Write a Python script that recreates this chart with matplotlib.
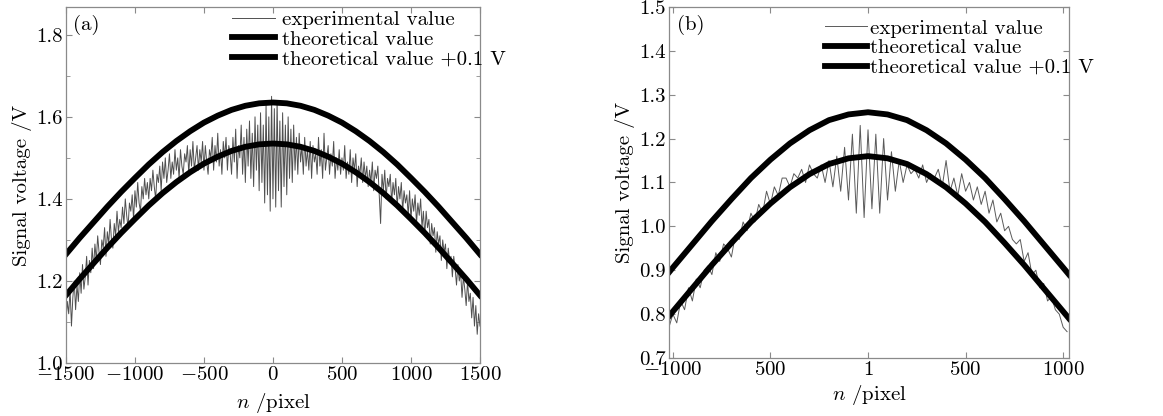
import numpy as np
import matplotlib
matplotlib.use("Agg")
import matplotlib.pyplot as plt

plt.rcParams['font.family'] = 'serif'
plt.rcParams['font.serif'] = ['cmr10']
plt.rcParams['mathtext.fontset'] = 'cm'
plt.rcParams['axes.unicode_minus'] = False
plt.rcParams['axes.formatter.use_mathtext'] = True

# ---- panel (a) data ----
xa_theo = [-1500, -1400, -1300, -1200, -1100, -1000, -900, -800, -700, -600, -500, -400, -300, -200, -100,
           0, 100, 200, 300, 400, 500, 600, 700, 800, 900, 1000, 1100, 1200, 1300, 1400, 1500]
ya_theo = [1.165, 1.205, 1.243, 1.281, 1.317, 1.351, 1.384, 1.414, 1.441, 1.465, 1.486, 1.503, 1.517, 1.527, 1.533,
           1.535, 1.533, 1.527, 1.517, 1.503, 1.486, 1.465, 1.441, 1.414, 1.384, 1.351, 1.317, 1.281, 1.243, 1.205, 1.165]
ya_theo_up = [v + 0.1 for v in ya_theo]

xa_exp = list(range(-1500, 1501, 10))
ya_exp = [1.10, 1.15, 1.12, 1.18, 1.09, 1.16, 1.20, 1.13, 1.19, 1.15, 1.22, 1.17, 1.24, 1.18, 1.21, 1.26, 1.19, 1.25, 1.22, 1.28,
          1.23, 1.29, 1.25, 1.31, 1.27, 1.24, 1.30, 1.28, 1.33, 1.26, 1.32, 1.29, 1.35, 1.30, 1.28, 1.34, 1.31, 1.37, 1.32, 1.35,
          1.33, 1.38, 1.34, 1.40, 1.36, 1.33, 1.39, 1.37, 1.41, 1.35, 1.42, 1.38, 1.44, 1.39, 1.37, 1.43, 1.40, 1.45, 1.41, 1.44,
          1.40, 1.45, 1.42, 1.47, 1.43, 1.40, 1.46, 1.44, 1.48, 1.42, 1.49, 1.45, 1.50, 1.44, 1.47, 1.51, 1.45, 1.49, 1.46, 1.52,
          1.47, 1.50, 1.45, 1.52, 1.48, 1.46, 1.51, 1.49, 1.53, 1.46, 1.52, 1.48, 1.54, 1.47, 1.50, 1.53, 1.47, 1.52, 1.49, 1.54,
          1.47, 1.53, 1.49, 1.46, 1.52, 1.50, 1.55, 1.47, 1.53, 1.49, 1.56, 1.48, 1.52, 1.46, 1.54, 1.50, 1.55, 1.47, 1.53, 1.51,
          1.46, 1.55, 1.49, 1.57, 1.45, 1.53, 1.50, 1.58, 1.46, 1.55, 1.44, 1.57, 1.48, 1.59, 1.45, 1.56, 1.43, 1.60, 1.47, 1.58,
          1.42, 1.61, 1.44, 1.58, 1.39, 1.63, 1.41, 1.60, 1.37, 1.65, 1.40, 1.62, 1.38, 1.64, 1.42, 1.59, 1.38, 1.61, 1.43, 1.58,
          1.41, 1.60, 1.45, 1.57, 1.44, 1.58, 1.47, 1.55, 1.46, 1.56, 1.49, 1.53, 1.46, 1.55, 1.48, 1.52, 1.47, 1.54, 1.45, 1.53,
          1.49, 1.51, 1.46, 1.55, 1.48, 1.52, 1.45, 1.56, 1.47, 1.50, 1.53, 1.46, 1.51, 1.48, 1.54, 1.45, 1.50, 1.47, 1.52, 1.46,
          1.50, 1.47, 1.53, 1.45, 1.49, 1.46, 1.52, 1.44, 1.50, 1.47, 1.51, 1.43, 1.48, 1.46, 1.50, 1.44, 1.49, 1.45, 1.48, 1.43,
          1.47, 1.44, 1.49, 1.42, 1.47, 1.45, 1.48, 1.41, 1.34, 1.46, 1.42, 1.47, 1.40, 1.45, 1.43, 1.46, 1.39, 1.44, 1.41, 1.45,
          1.38, 1.43, 1.40, 1.44, 1.37, 1.42, 1.39, 1.41, 1.36, 1.42, 1.35, 1.40, 1.37, 1.41, 1.34, 1.39, 1.36, 1.40, 1.33, 1.37,
          1.31, 1.37, 1.33, 1.35, 1.29, 1.34, 1.31, 1.33, 1.27, 1.32, 1.29, 1.31, 1.25, 1.30, 1.27, 1.29, 1.23, 1.28, 1.25, 1.26,
          1.21, 1.26, 1.23, 1.19, 1.24, 1.20, 1.22, 1.16, 1.21, 1.18, 1.14, 1.20, 1.15, 1.17, 1.11, 1.16, 1.09, 1.14, 1.07, 1.12,
          1.09]

xa_ticks = [-1500, -1000, -500, 0, 500, 1000, 1500]
xa_labels = ['$-1500$', '$-1000$', '$-500$', '$0$', '$500$', '$1000$', '$1500$']
ya_ticks = [1.0, 1.2, 1.4, 1.6, 1.8]
ya_labels = ['1.0', '1.2', '1.4', '1.6', '1.8']

# ---- panel (b) data ----
xb_theo = [-1020, -1000, -900, -800, -700, -600, -500, -400, -300, -200, -100,
           0, 100, 200, 300, 400, 500, 600, 700, 800, 900, 1000, 1030]
yb_theo = [0.795, 0.806, 0.859, 0.912, 0.962, 1.010, 1.052, 1.089, 1.119, 1.142, 1.155,
           1.160, 1.155, 1.142, 1.119, 1.089, 1.052, 1.010, 0.962, 0.912, 0.859, 0.806, 0.790]
yb_theo_up = [v + 0.1 for v in yb_theo]

xb_exp = list(range(-1020, 1021, 20))
yb_exp = [0.77, 0.80, 0.78, 0.83, 0.81, 0.86, 0.83, 0.88, 0.86, 0.90,
          0.91, 0.89, 0.94, 0.92, 0.96, 0.95, 0.93, 0.98, 0.97, 1.01,
          0.99, 1.03, 1.01, 1.05, 1.03, 1.08, 1.05, 1.09, 1.07, 1.11,
          1.11, 1.09, 1.12, 1.11, 1.13, 1.10, 1.14, 1.12, 1.11, 1.14,
          1.10, 1.15, 1.09, 1.16, 1.08, 1.18, 1.06, 1.21, 1.03, 1.23,
          1.02, 1.22, 1.04, 1.21, 1.03, 1.20, 1.06, 1.17, 1.08, 1.15,
          1.10, 1.14, 1.12, 1.13, 1.11, 1.14, 1.10, 1.12, 1.11, 1.13,
          1.09, 1.15, 1.08, 1.11, 1.07, 1.12, 1.08, 1.10, 1.06, 1.09,
          1.05, 1.08, 1.03, 1.06, 1.01, 1.03, 0.99, 1.00, 0.97, 0.96,
          0.97, 0.92, 0.94, 0.89, 0.90, 0.86, 0.87, 0.83, 0.84, 0.81,
          0.80, 0.77, 0.76]

xb_ticks = [-1000, -500, 0, 500, 1000]
xb_labels = ['$-1000$', '$500$', '$1$', '$500$', '$1000$']
yb_ticks = [0.7, 0.8, 0.9, 1.0, 1.1, 1.2, 1.3, 1.4, 1.5]
yb_labels = ['0.7', '0.8', '0.9', '1.0', '1.1', '1.2', '1.3', '1.4', '1.5']

fs = 15
fig = plt.figure(figsize=(11.63, 4.16), dpi=100)
ax1 = fig.add_axes([0.0567, 0.1274, 0.356, 0.856])
ax2 = fig.add_axes([0.5752, 0.1394, 0.344, 0.844])


def style(ax):
    for s in ax.spines.values():
        s.set_color('#8a8a8a')
        s.set_linewidth(0.9)
    ax.tick_params(which='both', direction='in', top=True, right=True, color='#8a8a8a',
                   labelsize=fs, pad=2)
    ax.tick_params(which='major', length=4)
    ax.tick_params(which='minor', length=3)


# panel (a)
ax1.plot(xa_exp, ya_exp, color='#505050', lw=0.7, label='experimental value')
ax1.plot(xa_theo, ya_theo, color='black', lw=4.2, label='theoretical value')
ax1.plot(xa_theo, ya_theo_up, color='black', lw=4.2, label='theoretical value +0.1 V')
ax1.set_xlim(-1500, 1500)
ax1.set_ylim(1.0, 1.868)
ax1.set_xticks(xa_ticks)
ax1.set_xticklabels(xa_labels)
ax1.set_yticks(ya_ticks)
ax1.set_yticklabels(ya_labels)
ax1.set_yticks([1.1, 1.3, 1.5, 1.7], minor=True)
style(ax1)
ax1.set_xlabel('$n$ /pixel', fontsize=fs, labelpad=5)
ax1.set_ylabel('Signal voltage /V', fontsize=fs, labelpad=3)
ax1.text(0.017, 0.95, '(a)', transform=ax1.transAxes, fontsize=fs, va='center')
ax1.legend(loc='upper left', bbox_to_anchor=(0.40, 0.99), frameon=False, fontsize=fs,
           handlelength=2.1, handletextpad=0.3, labelspacing=0.05, borderpad=0, borderaxespad=0)

# panel (b)
ax2.plot(xb_exp, yb_exp, color='#5a5a5a', lw=0.7, label='experimental value')
ax2.plot(xb_theo, yb_theo, color='black', lw=4.2, label='theoretical value')
ax2.plot(xb_theo, yb_theo_up, color='black', lw=4.2, label='theoretical value +0.1 V')
ax2.set_xlim(-1020, 1030)
ax2.set_ylim(0.7, 1.5)
ax2.set_xticks(xb_ticks)
ax2.set_xticklabels(xb_labels)
ax2.set_yticks(yb_ticks)
ax2.set_yticklabels(yb_labels)
style(ax2)
ax2.set_xlabel('$n$ /pixel', fontsize=fs, labelpad=3)
ax2.set_ylabel('Signal voltage /V', fontsize=fs, labelpad=3)
ax2.text(0.02, 0.949, '(b)', transform=ax2.transAxes, fontsize=fs, va='center')
ax2.legend(loc='upper left', bbox_to_anchor=(0.39, 0.965), frameon=False, fontsize=fs,
           handlelength=2.0, handletextpad=0.15, labelspacing=0.05, borderpad=0, borderaxespad=0)

fig.savefig('out.png', dpi=100)
